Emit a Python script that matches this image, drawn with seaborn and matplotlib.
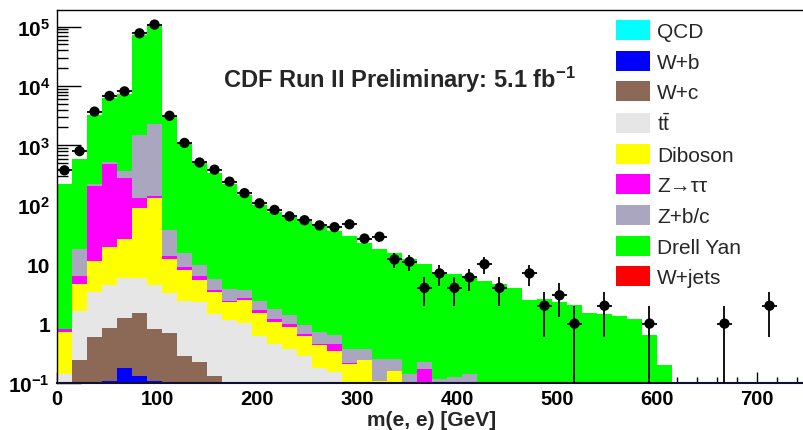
import numpy as np
import pandas as pd
import seaborn as sns
import matplotlib.pyplot as plt
from matplotlib.patches import Patch
from matplotlib.ticker import FixedLocator, LogLocator, NullFormatter, FuncFormatter, MultipleLocator

sns.set_style('ticks')
plt.rcParams['font.family'] = ['Liberation Sans', 'DejaVu Sans']
plt.rcParams['mathtext.fontset'] = 'custom'
plt.rcParams['mathtext.rm'] = 'Liberation Sans'
plt.rcParams['mathtext.bf'] = 'Liberation Sans:bold'
plt.rcParams['mathtext.it'] = 'Liberation Sans:italic'

# binning: 15 GeV bins, 0-750 GeV
edges = list(range(0, 751, 15))
centers = np.array(edges[:-1]) + 7.5

# observed events per bin
data_n = [380, 800, 3700, 6800, 8100, 77000, 108000, 3150, 1100, 515,
          390, 245, 157, 106, 82, 64, 55, 45, 42, 47,
          27, 29, 12, 11, 4, 7, 4, 6, 10, 4,
          0, 7, 2, 3, 1, 0, 2, 0, 0, 1,
          0, 0, 0, 0, 1, 0, 0, 2, 0, 0]

# expected backgrounds per bin (not cumulative)
qcd = [0] * 50
w_b = [0, 0, 0.105, 0.11, 0.18, 0.13, 0.11, 0.09, 0.05, 0.04,
       0.03, 0.02, 0.01] + [0] * 37
w_c = [0.02, 0.24, 0.5, 0.72, 1.07, 1.35, 0.7, 0.61, 0.23, 0.19,
       0.1, 0.04, 0.03, 0.03, 0.02, 0.02, 0.01, 0.01] + [0] * 32
ttbar = [0.12, 1.36, 2.8, 3.7, 4.55, 4.3, 3.6, 2.6, 2.1, 2.1,
         1.33, 1.09, 0.99, 0.6, 0.43, 0.35, 0.28, 0.17, 0.155, 0.08,
         0.05, 0.03, 0.03, 0.02, 0.02, 0.01, 0.01, 0.01] + [0] * 22
diboson = [0.59, 3.1, 8.1, 14.9, 20.9, 84, 127, 8.7, 5.7, 3.1,
           2.0, 1.2, 1.47, 0.9, 0.63, 0.52, 0.34, 0.26, 0.185, 0.13,
           0.19, 0.08, 0.13, 0.03, 0.02, 0.02, 0.02, 0.095, 0.02] + [0] * 21
ztautau = [0.08, 1.7, 196, 472, 258, 41, 7, 2, 0.9, 0.8,
           0.24, 0.05, 0.24, 0.17, 0.12, 0.08, 0.03, 0.01, 0.11, 0.01,
           0, 0, 0, 0, 0.13] + [0] * 25
z_bc = [0.01, 11.6, 16, 33, 89, 1346, 2179, 24, 6.5, 3.5,
        2.0, 1.44, 1.0, 0.74, 0.57, 0.43, 0.3, 0.26, 0.19, 0.16,
        0.13, 0.14, 0.09, 0.09, 0.06, 0.086, 0.095, 0.035, 0.03] + [0] * 21
drell_yan = [219, 578, 2980, 5680, 6930, 69560, 109700, 3110, 1025, 500,
             339, 221, 141, 98, 75, 61, 52, 43, 35, 29,
             22, 18, 15, 12, 10, 6.8, 6.8, 5.9, 5.2, 4.7,
             3.9, 2.5, 2.55, 2.3, 2.05, 1.49, 1.43, 1.33, 1.2, 0.64,
             0.2] + [0] * 9
w_jets = [0] * 50

names = ['QCD', 'W+b', 'W+c', r'$\mathrm{t\bar{t}}$', 'Diboson', 'Z→ττ', 'Z+b/c', 'Drell Yan', 'W+jets']
comps = [qcd, w_b, w_c, ttbar, diboson, ztautau, z_bc, drell_yan, w_jets]
colors = ['#00ffff', '#0000ff', '#8c6857', '#e6e6e6', '#ffff00', '#ff00ff', '#aaa6c0', '#00ff00', '#ff0000']
palette = dict(zip(names, colors))

rows = []
for name, vals in zip(names, comps):
    for c, v in zip(centers, vals):
        rows.append((c, v, name))
df = pd.DataFrame(rows, columns=['mass', 'n', 'process'])

fig = plt.figure(figsize=(8.04, 4.31), dpi=100)
ax = fig.add_axes([57/804, 47/431, 750/804, 373/431])

# first hue level ends up on top of the stack
sns.histplot(data=df, x='mass', weights='n', hue='process', hue_order=names[::-1],
             palette=palette, multiple='stack', bins=edges, element='step',
             linewidth=0, alpha=1, legend=False, ax=ax)

# data points with poisson errors
n = np.array(data_n, dtype=float)
m = n > 0
err = np.sqrt(n[m])
lo = np.minimum(err, n[m] * 0.999)
ax.errorbar(centers[m], n[m], yerr=[lo, err], xerr=7.5, fmt='none',
            ecolor='black', elinewidth=1.3, capsize=0, zorder=4)
sns.scatterplot(x=centers[m], y=n[m], color='black', s=55, edgecolor='none', zorder=5, ax=ax)

ax.set_yscale('log')
ax.set_ylim(0.1, 1.9e5)
ax.set_xlim(0, 750)

ax.xaxis.set_major_locator(MultipleLocator(100))
ax.xaxis.set_minor_locator(MultipleLocator(20))
ax.yaxis.set_major_locator(FixedLocator([0.1, 1, 10, 100, 1e3, 1e4, 1e5]))
ax.yaxis.set_minor_locator(LogLocator(base=10, subs=range(2, 10), numticks=20))
ax.yaxis.set_minor_formatter(NullFormatter())

def ylab(v, pos):
    e = int(round(np.log10(v)))
    if e == 0:
        return '1'
    if e == 1:
        return '10'
    return r'$\mathbf{10^{%d}}$' % e

ax.yaxis.set_major_formatter(FuncFormatter(ylab))

ax.tick_params(which='both', direction='in', top=False, right=False, colors='black')
ax.tick_params(axis='x', which='major', length=8, width=1, labelsize=14.5, pad=4)
ax.tick_params(axis='x', which='minor', length=4, width=1)
ax.tick_params(axis='y', which='major', length=17, width=1, labelsize=15, pad=5)
ax.tick_params(axis='y', which='minor', length=8, width=1)
for lab in ax.get_xticklabels() + ax.get_yticklabels():
    lab.set_fontweight('bold')
for sp in ax.spines.values():
    sp.set_color('black')
    sp.set_linewidth(1)
ax.spines['bottom'].set_linewidth(1.5)
ax.spines['bottom'].set_color('#101030')

ax.set_xlabel('m(e, e) [GeV]', fontsize=15, fontweight='bold')
ax.xaxis.set_label_coords(0.5, -27/373)
ax.set_ylabel('')

fig.text(399/804, 1 - 80/431, r'CDF Run II Preliminary: 5.1 fb$^{\mathbf{-1}}$',
         ha='center', va='center', fontsize=17, fontweight='bold')

handles = [Patch(facecolor=c, edgecolor='none') for c in colors]
ax.legend(handles, names, loc='upper left', bbox_to_anchor=(616/804, 1 - 21/431),
          bbox_transform=fig.transFigure, frameon=False, fontsize=15,
          handlelength=1.63, handleheight=1.1, handletextpad=0.34,
          labelspacing=0.46, borderaxespad=0, borderpad=0)

fig.savefig('out.png', dpi=100)
